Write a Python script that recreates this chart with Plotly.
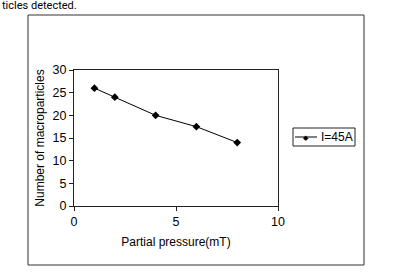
import plotly.graph_objects as go

pressure = [1, 2, 4, 6, 8]
macroparticles = [26, 24, 20, 17.5, 14]
series_name = "I=45A"

W, H = 393, 277
L, R, T, B = 74, 115, 70, 71
pw, ph = W - L - R, H - T - B

def px(x):
    return (x - L) / pw

def py(y):
    return (H - B - y) / ph

FAM = "Liberation Sans, Arial, sans-serif"

fig = go.Figure()
fig.add_trace(go.Scatter(
    x=pressure, y=macroparticles, name=series_name, mode="lines+markers",
    line=dict(color="black", width=1),
    marker=dict(symbol="diamond", size=6, color="black"),
    showlegend=False,
))

fig.update_layout(
    width=W, height=H,
    margin=dict(l=L, r=R, t=T, b=B),
    paper_bgcolor="white", plot_bgcolor="white",
    font=dict(family=FAM, size=12, color="black"),
    xaxis=dict(range=[0, 10], tickvals=[0, 5, 10], showgrid=False, zeroline=False,
               showline=True, linecolor="#222", linewidth=1, mirror=True,
               ticks="outside", ticklen=4, tickcolor="#222",
               tickfont=dict(size=12.5),
               title=dict(text="Partial pressure(mT)", standoff=9,
                          font=dict(size=12))),
    yaxis=dict(range=[0, 30], tickvals=[0, 5, 10, 15, 20, 25, 30], showgrid=False,
               zeroline=False, showline=True, linecolor="#222", linewidth=1,
               mirror=True, ticks="outside", ticklen=4, tickcolor="#222",
               tickfont=dict(size=12.5),
               title=dict(text="Number of macroparticles", standoff=5,
                          font=dict(size=12))),
    shapes=[
        dict(type="rect", xref="paper", yref="paper",
             x0=px(28), x1=px(364), y0=py(265), y1=py(15),
             line=dict(color="#333", width=1)),
        # legend box and sample line
        dict(type="rect", xref="paper", yref="paper",
             x0=px(293), x1=px(355), y0=py(146), y1=py(128),
             line=dict(color="#222", width=1), fillcolor="white"),
        dict(type="line", xref="paper", yref="paper",
             x0=px(295), x1=px(317), y0=py(137), y1=py(137),
             line=dict(color="black", width=1)),
    ],
    annotations=[
        dict(text="ticles detected.", xref="paper", yref="paper",
             x=px(0), y=py(6), xanchor="left", yanchor="middle",
             showarrow=False, font=dict(size=11, family="Roboto")),
        dict(text="◆", xref="paper", yref="paper",
             x=px(306), y=py(137), xanchor="center", yanchor="middle",
             showarrow=False, font=dict(size=7, color="black")),
        dict(text=series_name, xref="paper", yref="paper",
             x=px(319), y=py(137), xanchor="left", yanchor="middle",
             showarrow=False, font=dict(size=12, family=FAM)),
    ],
)

fig.write_html("out.html")
